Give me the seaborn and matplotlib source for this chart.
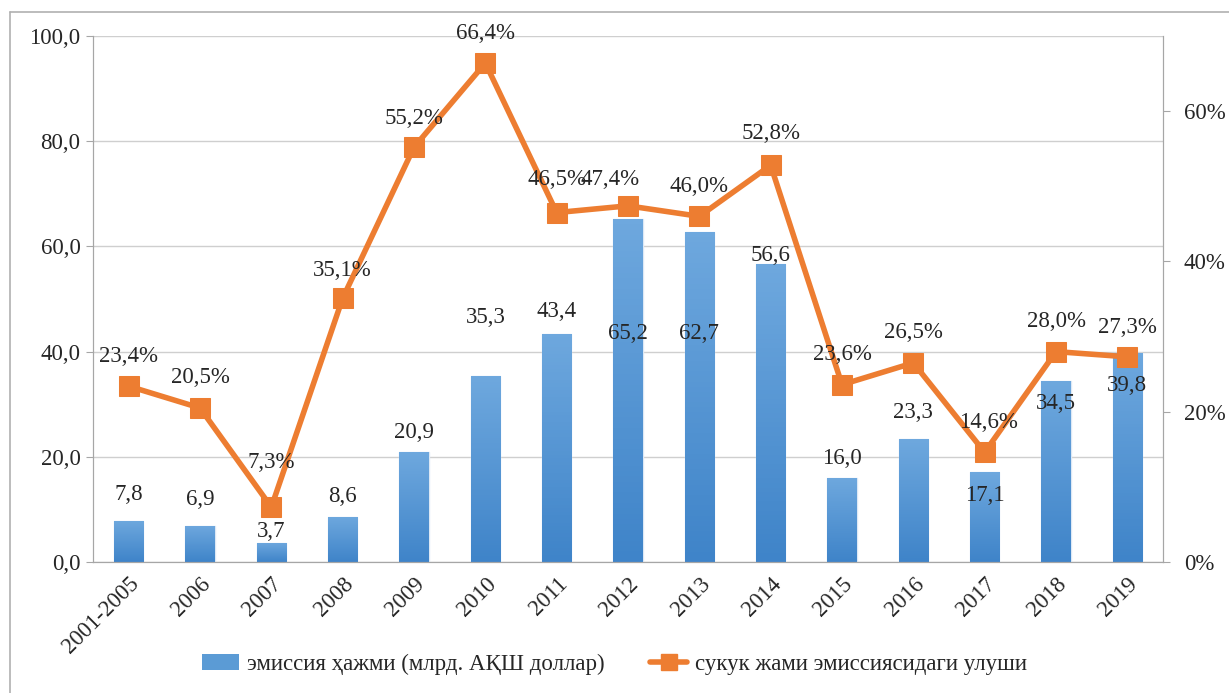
import numpy as np
import pandas as pd
import matplotlib
matplotlib.use("Agg")
import matplotlib.pyplot as plt
from matplotlib.lines import Line2D
from matplotlib.patches import Patch
from matplotlib.colors import LinearSegmentedColormap
import seaborn as sns

# chart data
years = ["2001-2005", "2006", "2007", "2008", "2009", "2010", "2011", "2012",
         "2013", "2014", "2015", "2016", "2017", "2018", "2019"]
volume = [7.8, 6.9, 3.7, 8.6, 20.9, 35.3, 43.4, 65.2, 62.7, 56.6, 16.0, 23.3, 17.1, 34.5, 39.8]
share = [23.4, 20.5, 7.3, 35.1, 55.2, 66.4, 46.5, 47.4, 46.0, 52.8, 23.6, 26.5, 14.6, 28.0, 27.3]

bar_name = "эмиссия ҳажми (млрд. АҚШ доллар)"
line_name = "сукук жами эмиссиясидаги улуши"

# label placement (pixels relative to bar top / marker)
bar_label_dy = [26, 26, 11, 20, 20, 59, 22, -114, -101, 9, 19, 27, -23, -23, -33]
share_label_dx = [0, 0, 0, 0, 0, 0, 0, -18, 0, 0, 0, 0, 4, 0, 0]
share_label_dy = [30, 30, 45, 28, 29, 30, 33, 26, 30, 32, 30, 30, 30, 30, 29]

df = pd.DataFrame({"year": years, "volume": volume, "share": share})

sns.set_style("white")
plt.rcParams["font.family"] = ["Liberation Serif", "DejaVu Serif"]
fs = 16.5

fig = plt.figure(figsize=(12.29, 6.93), dpi=100)
ax = fig.add_axes([93 / 1229, 131 / 693, 1070 / 1229, 526 / 693])

blue = "#5B9BD5"
orange = "#ED7D31"
grey = "#A6A6A6"

sns.barplot(data=df, x="year", y="volume", ax=ax, color=blue, width=0.41,
            saturation=1, edgecolor="#DCE8F5", linewidth=1.0, zorder=2)
ax.set_ylim(0, 100)
ax.set_xlim(-0.5, len(years) - 0.5)

# soft vertical gradient on the bars
grad = LinearSegmentedColormap.from_list("bars", ["#3F84C9", "#6EA8DE"])
for bar in ax.patches:
    x0, y0 = bar.get_x(), bar.get_y()
    w, h = bar.get_width(), bar.get_height()
    im = ax.imshow(np.linspace(0, 1, 64).reshape(-1, 1), cmap=grad, origin="lower",
                   extent=[x0, x0 + w, y0, y0 + h], aspect="auto", zorder=2.1)
    im.set_clip_path(bar)
ax.set_xlim(-0.5, len(years) - 0.5)
ax.set_ylim(0, 100)

ax.set_yticks(np.arange(0, 101, 20))
ax.set_yticklabels([f"{v:.1f}".replace(".", ",") for v in np.arange(0, 101, 20)])
ax.yaxis.grid(True, color="#CFCFCF", linewidth=1.0)
ax.set_axisbelow(True)
ax.set_xlabel("")
ax.set_ylabel("")

# x ticks between categories
ax.set_xticks(np.arange(len(years)))
ax.set_xticklabels(years, rotation=45, ha="right", rotation_mode="anchor")
ax.set_xticks(np.arange(-0.5, len(years), 1), minor=True)
ax.tick_params(axis="x", which="major", length=0, labelsize=fs, pad=8)
ax.tick_params(axis="x", which="minor", length=6, color=grey, direction="out")
ax.tick_params(axis="y", length=5, color=grey, labelsize=fs, direction="out", pad=4)

ax.spines["top"].set_visible(False)
for s in ["left", "bottom", "right"]:
    ax.spines[s].set_color(grey)

ax2 = ax.twinx()
xs = np.arange(len(years))
sns.lineplot(x=xs, y=share, ax=ax2, color=orange, linewidth=4, marker="s",
             markersize=14, markeredgecolor=orange, zorder=3)
ax2.set_ylim(0, 70)
ax2.set_yticks([0, 20, 40, 60])
ax2.set_yticklabels(["0%", "20%", "40%", "60%"])
ax2.tick_params(axis="y", length=5, color=grey, labelsize=fs, direction="out", pad=10)
ax2.spines["top"].set_visible(False)
for s in ["left", "bottom", "right"]:
    ax2.spines[s].set_color(grey)
ax2.grid(False)
ax.set_zorder(1)
ax2.set_zorder(2)
ax.patch.set_visible(False)

# value labels
for i, v in enumerate(volume):
    ax2.annotate(f"{v:.1f}".replace(".", ","), xy=(i, v * 0.7), xytext=(0, bar_label_dy[i]),
                 textcoords="offset pixels", ha="center", va="center", fontsize=fs, zorder=5)
for i, p in enumerate(share):
    ax2.annotate(f"{p:.1f}%".replace(".", ","), xy=(i, p),
                 xytext=(share_label_dx[i], share_label_dy[i]),
                 textcoords="offset pixels", ha="center", va="center", fontsize=fs, zorder=5)

handles = [Patch(facecolor=blue, edgecolor="none"),
           Line2D([0], [0], color=orange, linewidth=4, marker="s", markersize=11)]
fig.legend(handles, [bar_name, line_name], loc="center", bbox_to_anchor=(0.5, 29 / 693),
           ncol=2, frameon=False, fontsize=fs, columnspacing=2.0, handlelength=1.6,
           handletextpad=0.35)

# outer frame
fig.add_artist(Line2D([10 / 1229, 10 / 1229], [0, 1 - 12 / 693], color="#B0B0B0",
                      linewidth=1.2, transform=fig.transFigure))
fig.add_artist(Line2D([10 / 1229, 1], [1 - 12 / 693, 1 - 12 / 693], color="#B0B0B0",
                      linewidth=1.2, transform=fig.transFigure))

fig.savefig("out.png", dpi=100)
